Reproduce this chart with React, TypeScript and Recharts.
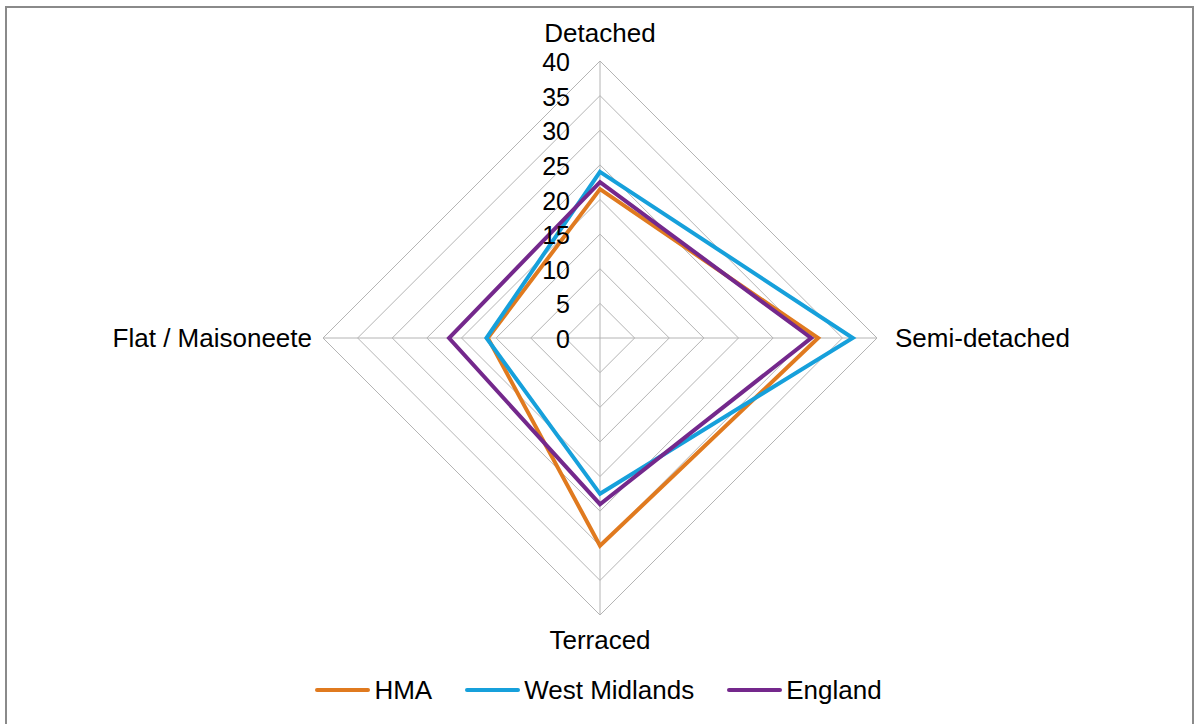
import React from 'react';
import { RadarChart, Radar, PolarGrid, PolarAngleAxis, PolarRadiusAxis, Legend } from 'recharts';

const categories = ['Detached', 'Semi-detached', 'Terraced', 'Flat / Maisoneete'];
const hma = [21.5, 31.5, 30, 16.2];
const westMidlands = [24, 36.5, 22.5, 16.4];
const england = [22.5, 30.5, 24, 21.8];
const radiusTicks = [0, 5, 10, 15, 20, 25, 30, 35, 40];

const series = [
    { key: 'hma', name: 'HMA', color: '#E07A1F' },
    { key: 'wm', name: 'West Midlands', color: '#16A0DB' },
    { key: 'eng', name: 'England', color: '#74288C' },
];

const data = categories.map((c, i) => ({
    type: c,
    hma: hma[i],
    wm: westMidlands[i],
    eng: england[i],
}));

const CX = 600;
const CY = 338;
const FONT = '"Liberation Sans", Arial, sans-serif';

// category labels sit just outside the outer ring
const AngleTick = (props: any) => {
    const { x, y, payload } = props;
    let dx = 0;
    let dy = 0;
    let anchor = 'middle';
    if (y < CY - 20) {
        dy = -20;
    } else if (y > CY + 20) {
        dy = 17;
    } else if (x > CX) {
        dx = 10;
        anchor = 'start';
    } else {
        dx = -3;
        anchor = 'end';
    }
    return (
        <text x={x + dx} y={y + dy} textAnchor={anchor} dominantBaseline="central"
            fontSize={26} fontFamily={FONT} fill="#000">
            {payload.value}
        </text>
    );
};

const RadiusTick = (props: any) => {
    const { x, y, payload } = props;
    return (
        <text x={x - 30} y={y + 1} textAnchor="end" dominantBaseline="central"
            fontSize={25} fontFamily={FONT} fill="#000">
            {payload.value}
        </text>
    );
};

const LegendContent = () => (
    <div style={{ display: 'flex', justifyContent: 'center', gap: 33, fontFamily: FONT, fontSize: 26, color: '#000', lineHeight: '30px' }}>
        {series.map((s) => (
            <div key={s.key} style={{ display: 'flex', alignItems: 'center' }}>
                <span style={{ display: 'inline-block', width: 55, height: 4, borderRadius: 2, background: s.color, marginRight: 4 }}></span>
                <span>{s.name}</span>
            </div>
        ))}
    </div>
);

const App = () => {
    return (
        <div style={{ position: 'absolute', left: 0, top: 0, width: 1197, height: 724, overflow: 'hidden', background: '#fff' }}>
            <div style={{ position: 'absolute', left: 5, top: 6, width: 1185, height: 740, border: '2px solid #8a8a8a' }}></div>
            <div style={{ position: 'absolute', left: 0, top: 0 }}>
                <RadarChart width={1197} height={724} data={data} cx={CX} cy={CY} outerRadius={277}
                    margin={{ top: 0, right: 0, bottom: 0, left: 0 }}>
                    <PolarGrid gridType="polygon" stroke="#B4B4B4" strokeWidth={1} />
                    <PolarAngleAxis dataKey="type" tick={<AngleTick />} tickLine={false} axisLine={false} />
                    <PolarRadiusAxis angle={90} domain={[0, 40]} ticks={radiusTicks as any} tickCount={9}
                        axisLine={false} tick={<RadiusTick />} />
                    {series.map((s) => (
                        <Radar key={s.key} name={s.name} dataKey={s.key} stroke={s.color} strokeWidth={4}
                            fill="none" fillOpacity={0} dot={false} isAnimationActive={false} />
                    ))}
                    <Legend content={<LegendContent />}
                        wrapperStyle={{ position: 'absolute', left: 0, top: 675, width: 1197 }} />
                </RadarChart>
            </div>
        </div>
    );
};

export default App;
